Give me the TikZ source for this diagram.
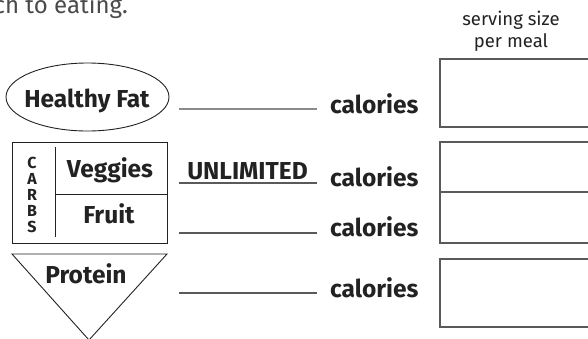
\documentclass[tikz,border=0pt]{standalone}
\usepackage{fontspec}
\setmainfont{Fira Sans}
\usetikzlibrary{shapes.geometric}
\definecolor{ink}{HTML}{222222}
\definecolor{rulec}{HTML}{5A5A5A}
\definecolor{headc}{HTML}{4A4A4A}
\begin{document}
\begin{tikzpicture}[x=1pt,y=-1pt,
  lbl/.style={font=\fontsize{24.5}{28}\selectfont\bfseries, text=ink, inner sep=0pt},
  cal/.style={lbl, anchor=base west},
  reg/.style={font=\fontsize{18.5}{21}\selectfont, text=ink, inner sep=0pt, anchor=base},
  shapeline/.style={draw=ink, line width=0.9pt},
  blank/.style={draw=rulec, line width=1.3pt},
  boxc/.style={draw=rulec, line width=1.3pt}]
\useasboundingbox (0,0) rectangle (588,338);
\clip (0,0) rectangle (588,338);

% header (cut off on the left)
\node[font=\fontsize{24}{28}\selectfont, text=headc, inner sep=0pt, anchor=base east] (head) at (128,13) {ch to eating.};

% serving size header
\node[reg] (ss1) at (511,25) {serving size};
\node[reg] (ss2) at (511,47) {per meal};

% healthy fat ellipse
\node[ellipse, shapeline, minimum width=163pt, minimum height=68pt, inner sep=0pt] (fat) at (87.5,97) {};
\node[lbl, anchor=base] (fatt) at (87,107) {Healthy Fat};

% carbs box
\draw[shapeline] (12,142) rectangle (167,243);
\draw[shapeline] (55,147) -- (55,237);
\draw[shapeline] (55,194) -- (167,194);
\node[font=\fontsize{16}{16}\selectfont\bfseries, text=ink, inner sep=0pt, align=center] (carbs) at (32,195) {C\\A\\R\\B\\S};
\node[lbl, anchor=base] (veg) at (110,177) {Veggies};
\node[lbl, anchor=base] (fruit) at (109,223) {Fruit};

% protein triangle
\draw[shapeline] (12,254) -- (167,254) -- (89,340) -- cycle;
\node[lbl, anchor=base] (prot) at (86,283) {Protein};

% blanks
\coordinate (b1a) at (179,109); \coordinate (b1b) at (317,109);
\coordinate (b2a) at (179,183); \coordinate (b2b) at (317,183);
\coordinate (b3a) at (179,233); \coordinate (b3b) at (317,233);
\coordinate (b4a) at (179,293); \coordinate (b4b) at (317,293);
\draw[blank, draw=rulec!70] (b1a) -- (b1b);
\draw[blank] (b2a) -- (b2b);
\draw[blank] (b3a) -- (b3b);
\draw[blank] (b4a) -- (b4b);
\node[lbl, anchor=base] (unl) at (247.5,179) {UNLIMITED};

% calories
\node[cal] (c1) at (330,113) {calories};
\node[cal] (c2) at (330,186) {calories};
\node[cal] (c3) at (330,236) {calories};
\node[cal] (c4) at (330,297) {calories};

% serving boxes
\draw[boxc] (440,59) rectangle (600,127);
\draw[boxc] (440,142) rectangle (600,243);
\draw[boxc] (440,192) -- (600,192);
\draw[boxc] (440,259) rectangle (600,327);
\end{tikzpicture}
\end{document}
